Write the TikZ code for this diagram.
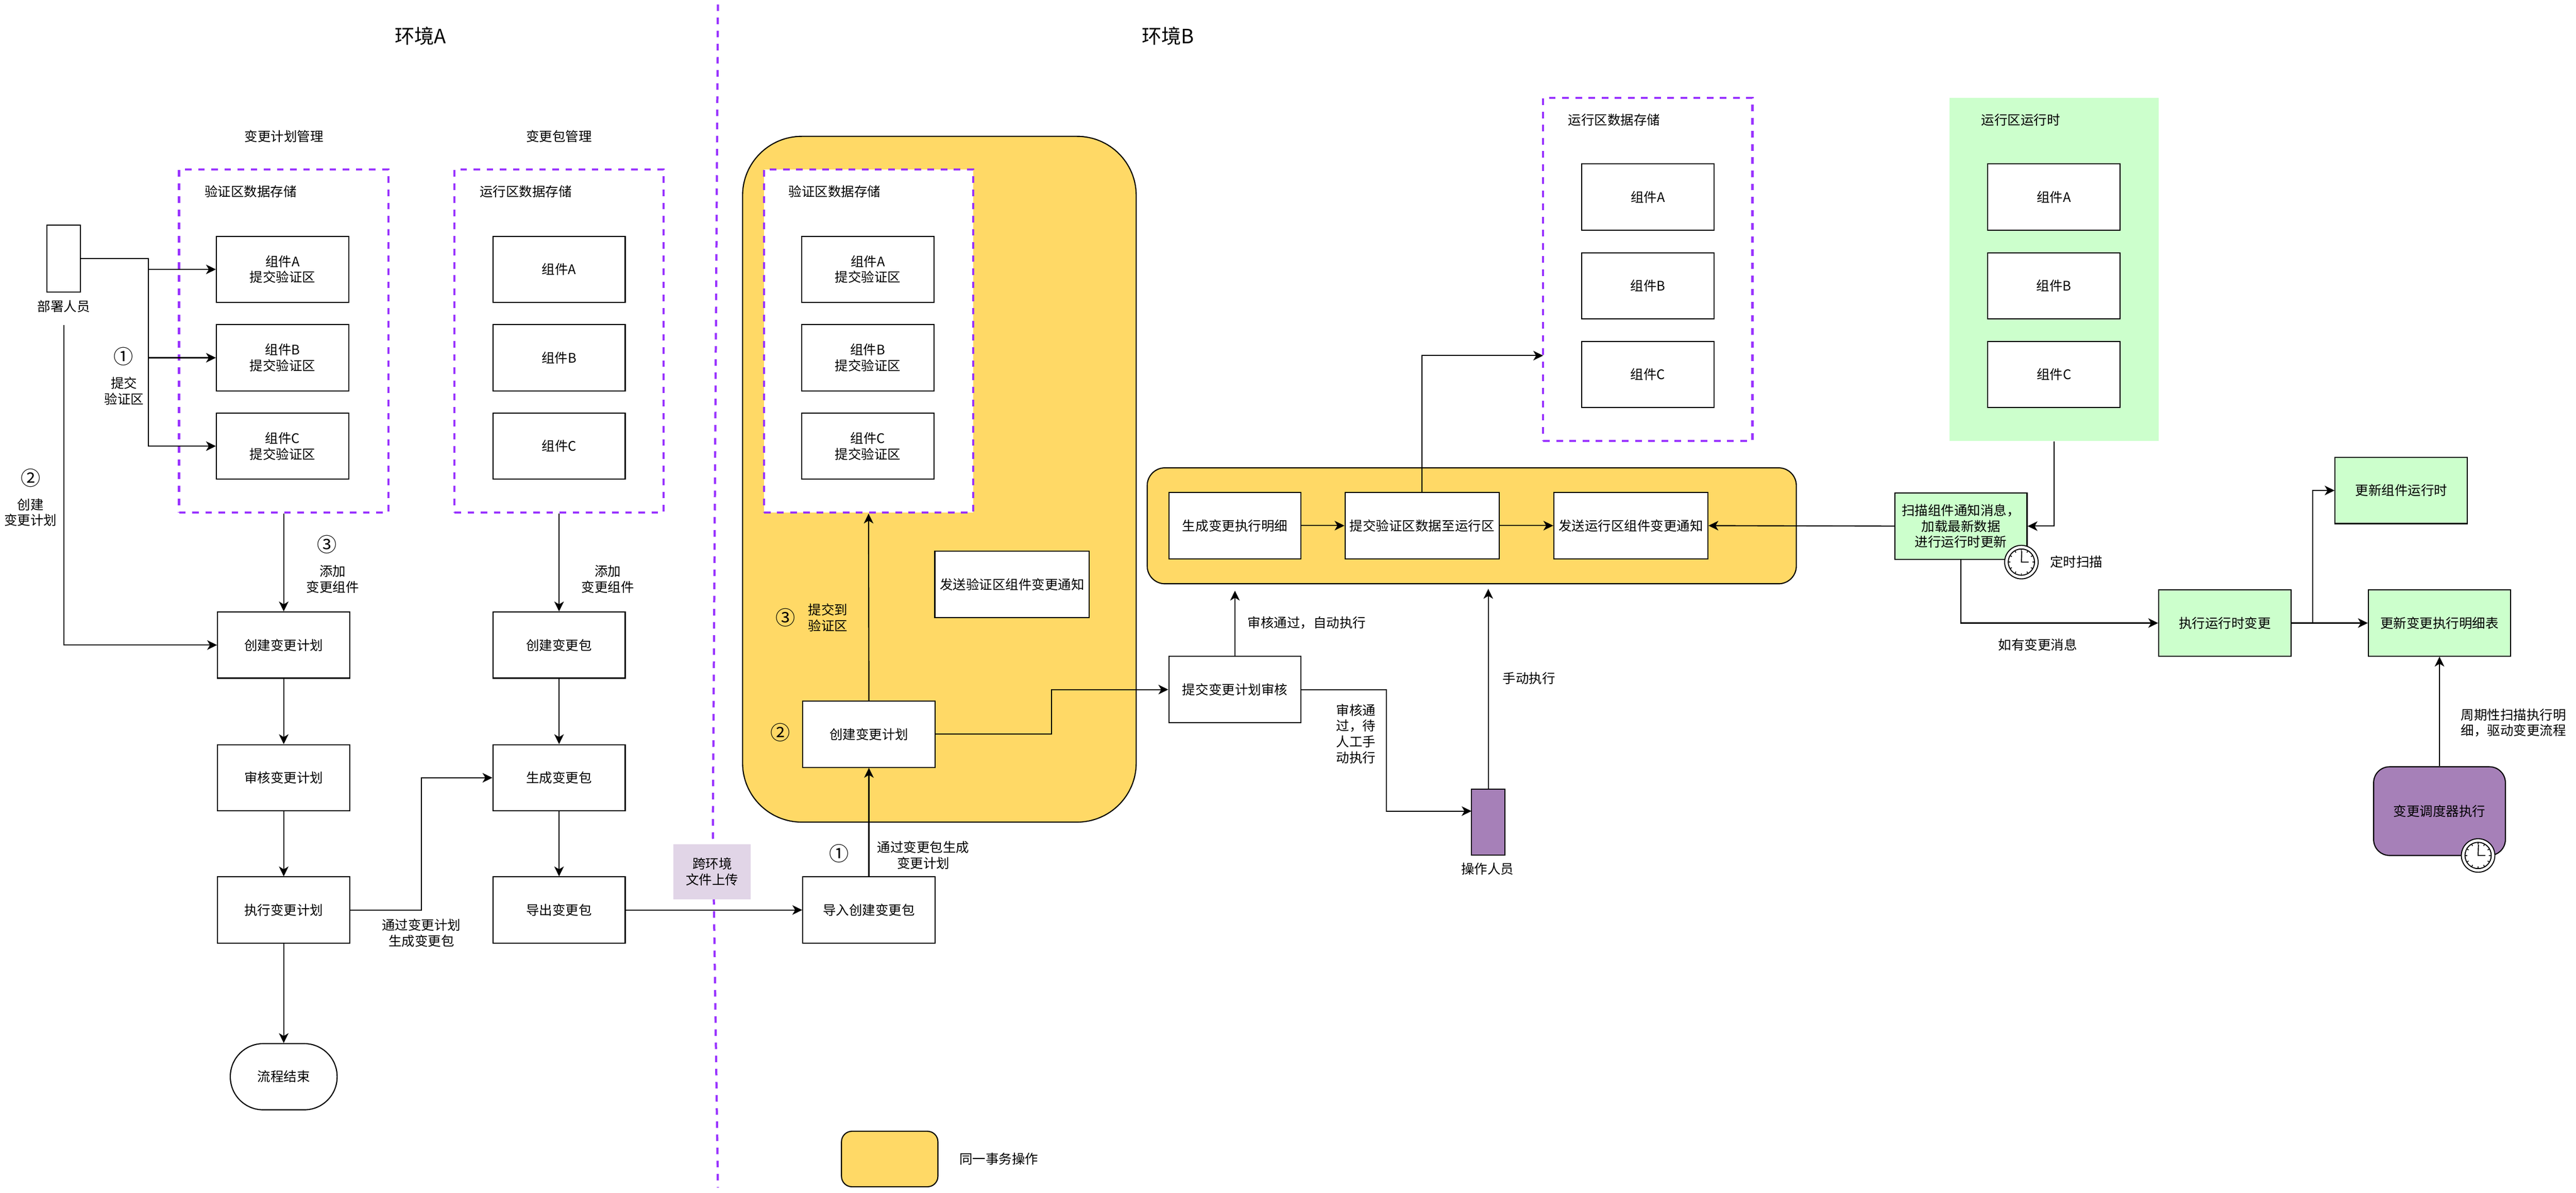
\documentclass[tikz,border=0pt]{standalone}
\usepackage{fontspec}
\setmainfont{Noto Sans CJK SC}
\usepackage{tikz}
\usetikzlibrary{positioning,calc,arrows.meta}
\definecolor{zonepurple}{HTML}{9933FF}
\definecolor{txyellow}{HTML}{FFD966}
\definecolor{rungreen}{HTML}{CCFFCC}
\definecolor{actorpurple}{HTML}{A680B8}
\definecolor{uploadlilac}{HTML}{E1D5E7}
\tikzset{
  box/.style={draw,line width=0.67pt,fill=white,minimum width=80.5pt,minimum height=40.3pt,inner sep=0pt,align=center,font=\fontsize{8}{9.6}\selectfont},
  greenbox/.style={box,fill=rungreen},
  zone/.style={draw=zonepurple,line width=1.33pt,dash pattern=on 4pt off 4pt,inner sep=0pt},
  label/.style={inner sep=0pt,align=center,font=\fontsize{8}{9.6}\selectfont},
  stepmark/.style={inner sep=0pt,font=\fontsize{12}{14}\selectfont},
  flow/.style={-{Stealth[length=6pt,width=5.8pt,inset=1.7pt]},line width=0.67pt},
  clockmark/.pic={
    \draw[fill=white,line width=0.6pt] (0,0) circle (10.2);
    \draw[line width=0.6pt] (0,0) circle (8);
    \foreach \a in {0,30,...,330}
      \draw[line width=0.5pt] (\a:6.7) -- (\a:8);
    \draw[line width=0.6pt] (0.2,-6.6) -- (0,0) -- (4.4,0);
  },
}

\begin{document}
\begin{tikzpicture}[x=1pt,y=-1pt]
    \useasboundingbox (0,0) rectangle (1568,726);

    % environment split
    \coordinate (splittop) at (437,2.7);
    \coordinate (splitmid) at (433.9,505);
    \coordinate (splitend) at (437,723);
    \draw [zonepurple,line width=1.33pt,dash pattern=on 4pt off 4pt] (splittop) -- (splitmid) -- (splitend);
    \node [label,font=\fontsize{12}{14}\selectfont] (envA) at (256,22) {环境A};
    \node [label,font=\fontsize{12}{14}\selectfont] (envB) at (711,22) {环境B};

    % transaction areas
    \draw [fill=txyellow,line width=0.67pt,rounded corners=36pt] (452,83) rectangle (691.6,500.5);
    \draw [fill=txyellow,line width=0.67pt,rounded corners=10.8pt] (698.3,284.8) rectangle (1093.4,355.4);
    \draw [fill=txyellow,line width=0.67pt,rounded corners=6.4pt] (512.2,688.7) rectangle (570.9,722.5);
    \node [label] (legendtext) at (608,705.4) {同一事务操作};

    % zones
    \node [zone,minimum width=127.4pt,minimum height=208.8pt] (checkzoneA) at (172.7,207.6) {};
    \node [zone,minimum width=127.4pt,minimum height=208.8pt] (runzoneA) at (340.3,207.6) {};
    \node [zone,fill=white,minimum width=127.4pt,minimum height=208.8pt] (checkzoneB) at (528.7,207.6) {};
    \node [zone,minimum width=127.4pt,minimum height=208.8pt] (runzoneB) at (1003,164) {};
    \node [fill=rungreen,inner sep=0pt,minimum width=127.4pt,minimum height=208.8pt] (runtimezone) at (1250.2,164) {};

    \node [label] (planmgr) at (172.8,83) {变更计划管理};
    \node [label] (pkgmgr) at (340.3,83) {变更包管理};
    \node [label] (checkdataA) at (152.6,116.7) {验证区数据存储};
    \node [label] (rundataA) at (320,116.7) {运行区数据存储};
    \node [label] (checkdataB) at (508,116.7) {验证区数据存储};
    \node [label] (rundataB) at (982.5,73) {运行区数据存储};
    \node [label] (runtimelabel) at (1230,73) {运行区运行时};

    % components
    \foreach \n/\y/\t in {a/164/A,b/217.8/B,c/271.6/C} {
      \node [box] (check\n A) at (172,\y) {组件\t\\提交验证区};
      \node [box] (run\n A) at (340.3,\y) {组件\t};
      \node [box] (check\n B) at (528.2,\y) {组件\t\\提交验证区};
    }
    \foreach \n/\y/\t in {a/120/A,b/174/B,c/228/C} {
      \node [box] (run\n B) at (1003,\y) {组件\t};
      \node [box] (live\n) at (1250.2,\y) {组件\t};
    }

    % deployer
    \node [draw,line width=0.67pt,fill=white,minimum width=20.5pt,minimum height=40.7pt,inner sep=0pt] (deployer) at (38.8,157.4) {};
    \node [label] (deployerlabel) at (38.8,186.5) {部署人员};
    \coordinate (deploybus) at (90.3,157.4);
    \draw [flow] (deployer.east) -- (deploybus) |- (checkaA.west);
    \draw [flow] (deployer.east) -- (deploybus) |- (checkbA.west);
    \draw [flow] (deployer.east) -- (deploybus) |- (checkcA.west);
    \node [stepmark] (stepone) at (75.3,217) {①};
    \node [label] (steponelabel) at (75.5,238) {提交\\验证区};
    \node [stepmark] (steptwo) at (18.6,291) {②};
    \node [label] (steptwolabel) at (18.6,312) {创建\\变更计划};
    \node [stepmark] (stepthree) at (198.9,331.6) {③};
    \node [label] (stepthreelabel) at (202.5,352.7) {添加\\变更组件};
    \node [label] (addlabel) at (370,352.7) {添加\\变更组件};

    % plan flow
    \node [box] (createplan) at (172.7,392.7) {创建变更计划};
    \node [box] (reviewplan) at (172.7,473.5) {审核变更计划};
    \node [box] (execplan) at (172.7,554) {执行变更计划};
    \node [draw,line width=0.67pt,fill=white,rounded corners=20pt,minimum width=65pt,minimum height=40.3pt,inner sep=0pt,font=\fontsize{8}{9.6}\selectfont] (planend) at (172.7,655.5) {流程结束};
    \coordinate (deploydown) at (38.8,197.8);
    \draw [flow] (deploydown) |- (createplan.west);
    \draw [flow] (checkzoneA.south) -- (createplan.north);
    \draw [flow] (createplan) -- (reviewplan);
    \draw [flow] (reviewplan) -- (execplan);
    \draw [flow] (execplan) -- (planend);

    % package flow
    \node [box] (createpkg) at (340.3,392.7) {创建变更包};
    \node [box] (buildpkg) at (340.3,473.5) {生成变更包};
    \node [box] (exportpkg) at (340.3,554) {导出变更包};
    \draw [flow] (runzoneA.south) -- (createpkg.north);
    \draw [flow] (createpkg) -- (buildpkg);
    \draw [flow] (buildpkg) -- (exportpkg);
    \coordinate (planbend) at (256.5,554);
    \draw [flow] (execplan.east) -- (planbend) |- (buildpkg.west);
    \node [label] (planbuildlabel) at (256.5,568) {通过变更计划\\生成变更包};

    % crossing
    \node [box] (importpkg) at (528.9,554) {导入创建变更包};
    \draw [flow] (exportpkg) -- (importpkg);
    \node [label,fill=uploadlilac,minimum width=47pt,minimum height=33.4pt] (upload) at (433.5,530.7) {跨环境\\文件上传};
    \node [stepmark] (importone) at (510.7,519.6) {①};
    \node [label] (importlabel) at (562,520.7) {通过变更包生成\\变更计划};

    % environment B
    \node [box] (createplanB) at (528.9,447) {创建变更计划};
    \node [box,minimum width=94pt] (notifycheck) at (616,355.8) {发送验证区组件变更通知};
    \draw [flow] (importpkg) -- (createplanB);
    \draw [flow] (createplanB.north) -- (checkzoneB.south);
    \node [stepmark] (markthree) at (478,376) {③};
    \node [label] (submitlabel) at (504,376) {提交到\\验证区};
    \node [stepmark] (marktwo) at (475,446) {②};
    \node [box] (submitreview) at (751.7,419.8) {提交变更计划审核};
    \coordinate (reviewbend) at (640,447);
    \draw [flow] (createplanB.east) -- (reviewbend) |- (submitreview.west);

    % execution row
    \node [box] (gendetail) at (751.7,320) {生成变更执行明细};
    \node [box,minimum width=93.8pt] (submitdata) at (865.6,320) {提交验证区数据至运行区};
    \node [box,minimum width=93.8pt] (notifyrun) at (992.7,320) {发送运行区组件变更通知};
    \draw [flow] (gendetail) -- (submitdata);
    \draw [flow] (submitdata) -- (notifyrun);
    \coordinate (runzoneport) at (939.3,216.5);
    \draw [flow] (submitdata.north) |- (runzoneport);

    \coordinate (autotop) at (751.7,359.6);
    \draw [flow] (submitreview.north) -- (autotop);
    \node [label] (autolabel) at (795.4,379) {审核通过，自动执行};

    \node [draw,line width=0.67pt,fill=actorpurple,minimum width=20.4pt,minimum height=40.4pt,inner sep=0pt] (operator) at (905.9,500.5) {};
    \node [label] (operatorlabel) at (905.5,529) {操作人员};
    \coordinate (manualbend) at (843.8,419.8);
    \coordinate (operatorport) at (895.7,493.8);
    \draw [flow] (submitreview.east) -- (manualbend) |- (operatorport);
    \node [label] (waitlabel) at (825.4,446.7) {审核通\\过，待\\人工手\\动执行};
    \coordinate (manualtop) at (905.9,358.5);
    \draw [flow] (operator.north) -- (manualtop);
    \node [label] (manuallabel) at (930.7,412.9) {手动执行};

    % runtime side
    \node [greenbox] (scan) at (1193.6,320.3) {扫描组件通知消息，\\加载最新数据\\进行运行时更新};
    \draw [flow] (scan.west) -- (notifyrun.east);
    \draw [flow] (runtimezone.south) |- (scan.east);
    \pic at (1230.4,342.2) {clockmark};
    \node [label] (scanlabel) at (1263.8,342) {定时扫描};
    \node [greenbox] (execrun) at (1354.2,379.3) {执行运行时变更};
    \draw [flow] (scan.south) |- (execrun.west);
    \node [label] (changelabel) at (1240.3,392.4) {如有变更消息};
    \node [greenbox] (updaterun) at (1461.6,298.6) {更新组件运行时};
    \node [greenbox,minimum width=86.6pt] (updatedetail) at (1484.9,379.3) {更新变更执行明细表};
    \draw [flow] (execrun) -- (updatedetail);
    \coordinate (runbend) at (1407.8,379.3);
    \draw [flow] (execrun.east) -- (runbend) |- (updaterun.west);
    \node [draw,line width=0.67pt,fill=actorpurple,rounded corners=9.7pt,minimum width=80.2pt,minimum height=54pt,inner sep=0pt,font=\fontsize{8}{9.6}\selectfont] (scheduler) at (1484.9,493.8) {变更调度器执行};
    \draw [flow] (scheduler.north) -- (updatedetail.south);
    \pic at (1508.4,520.8) {clockmark};
    \node [label,align=left] (periodlabel) at (1530,440) {周期性扫描执行明\\细，驱动变更流程};
\end{tikzpicture}
\end{document}
